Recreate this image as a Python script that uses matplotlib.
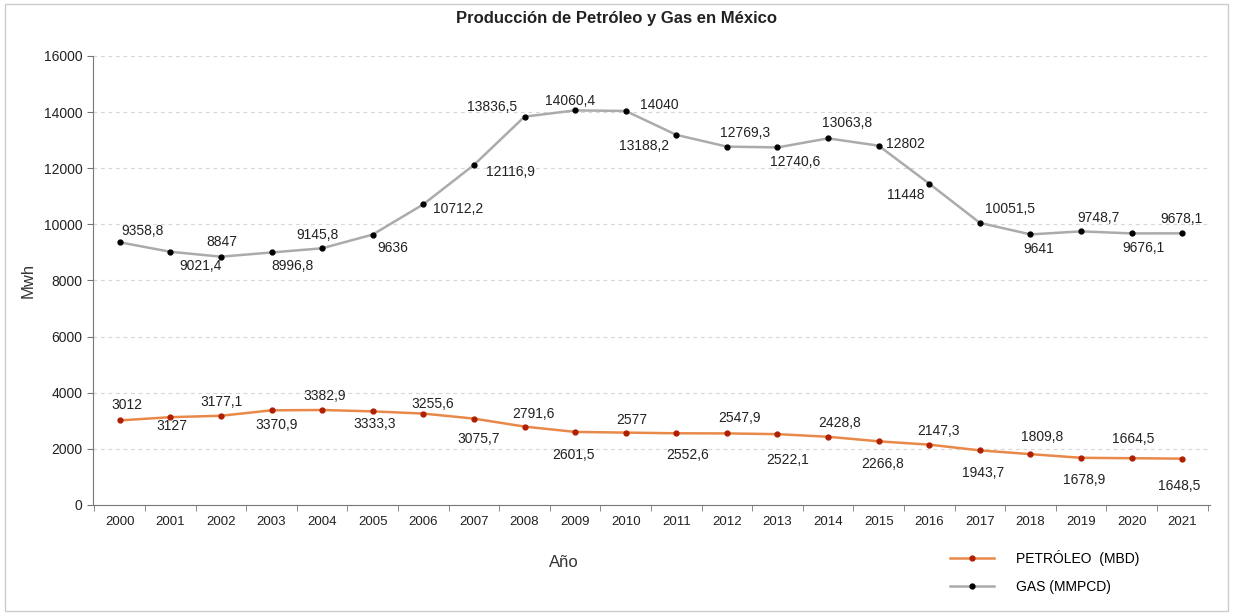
import matplotlib.pyplot as plt
from matplotlib.patches import Rectangle

plt.rcParams["font.family"] = ["Liberation Sans", "DejaVu Sans"]

years = [str(y) for y in range(2000, 2022)]
petroleo = [3012, 3127, 3177.1, 3370.9, 3382.9, 3333.3, 3255.6, 3075.7, 2791.6, 2601.5,
            2577, 2552.6, 2547.9, 2522.1, 2428.8, 2266.8, 2147.3, 1943.7, 1809.8, 1678.9,
            1664.5, 1648.5]
gas = [9358.8, 9021.4, 8847, 8996.8, 9145.8, 9636, 10712.2, 12116.9, 13836.5, 14060.4,
       14040, 13188.2, 12769.3, 12740.6, 13063.8, 12802, 11448, 10051.5, 9641, 9748.7,
       9676.1, 9678.1]

# label offsets in pixels (dx right, dy up)
gas_off = [(23, 11), (30, -14), (1, 15), (21, -14), (-5, 13), (20, -13), (35, -5), (37, -7),
           (-32, 10), (-5, 9), (34, 6), (-32, -11), (18, 14), (18, -15), (19, 15), (27, 2),
           (-24, -11), (30, 14), (8, -15), (18, 13), (12, -15), (-1, 14)]
oil_off = [(7, 15), (2, -9), (1, 14), (5, -15), (3, 14), (2, -13), (9, 10), (5, -20),
           (9, 13), (-2, -23), (6, 13), (11, -22), (13, 15), (10, -26), (12, 14), (4, -23),
           (9, 14), (3, -23), (12, 17), (3, -22), (2, 19), (-3, -27)]

oil_line = "#E8894A"
oil_mark = "#B01E00"
gas_line = "#ABABAB"


def fmt(v):
    return f"{v:g}".replace(".", ",")


fig = plt.figure(figsize=(12.33, 6.15), dpi=100)
ax = fig.add_axes([0.0754, 0.179, 0.906, 0.730])

x = list(range(len(years)))
ax.plot(x, petroleo, color=oil_line, lw=1.8, marker="o", ms=3.5,
        mfc=oil_mark, mec=oil_mark, label="PETRÓLEO  (MBD)", zorder=3)
ax.plot(x, gas, color=gas_line, lw=1.8, marker="o", ms=3.5,
        mfc="black", mec="black", label="GAS (MMPCD)", zorder=3)

for xi, v, (dx, dy) in zip(x, gas, gas_off):
    ax.annotate(fmt(v), (xi, v), xytext=(dx, dy), textcoords="offset pixels",
                ha="center", va="center", fontsize=10, color="#222222")
for xi, v, (dx, dy) in zip(x, petroleo, oil_off):
    ax.annotate(fmt(v), (xi, v), xytext=(dx, dy), textcoords="offset pixels",
                ha="center", va="center", fontsize=10, color="#222222")

ax.set_xlim(-0.53, 21.55)
ax.set_ylim(0, 16000)
ax.set_yticks(range(0, 16001, 2000))
ax.set_xticks(x)
ax.set_xticklabels(years, fontsize=9.5, color="#222222")
ax.set_xticks([i + 0.5 for i in range(-1, 22)], minor=True)
ax.tick_params(axis="x", which="major", length=0, pad=8)
ax.tick_params(axis="x", which="minor", length=4, color="#777777")
ax.tick_params(axis="y", length=4, color="#777777", labelsize=10, labelcolor="#222222")

ax.grid(axis="y", linestyle=(0, (3, 3)), color="#D8D8D8", lw=0.9)
ax.set_axisbelow(True)
for s in ["top", "right"]:
    ax.spines[s].set_visible(False)
for s in ["left", "bottom"]:
    ax.spines[s].set_color("#777777")

ax.set_ylabel("Mwh", fontsize=12, color="#333333", labelpad=6)
fig.text(0.457, 0.085, "Año", fontsize=12, color="#333333", ha="center", va="center")
fig.text(0.5, 0.97, "Producción de Petróleo y Gas en México", fontsize=12,
         fontweight="bold", ha="center", va="center", color="#222222")

fig.legend(loc="center left", bbox_to_anchor=(0.76, 0.07), frameon=False,
           fontsize=10, handlelength=3.2, handletextpad=1.6, labelspacing=1.0)

fig.patches.append(Rectangle((0.004, 0.006), 0.992, 0.988, transform=fig.transFigure,
                             fill=False, edgecolor="#CCCCCC", lw=1))

fig.savefig("out.png", dpi=100)
